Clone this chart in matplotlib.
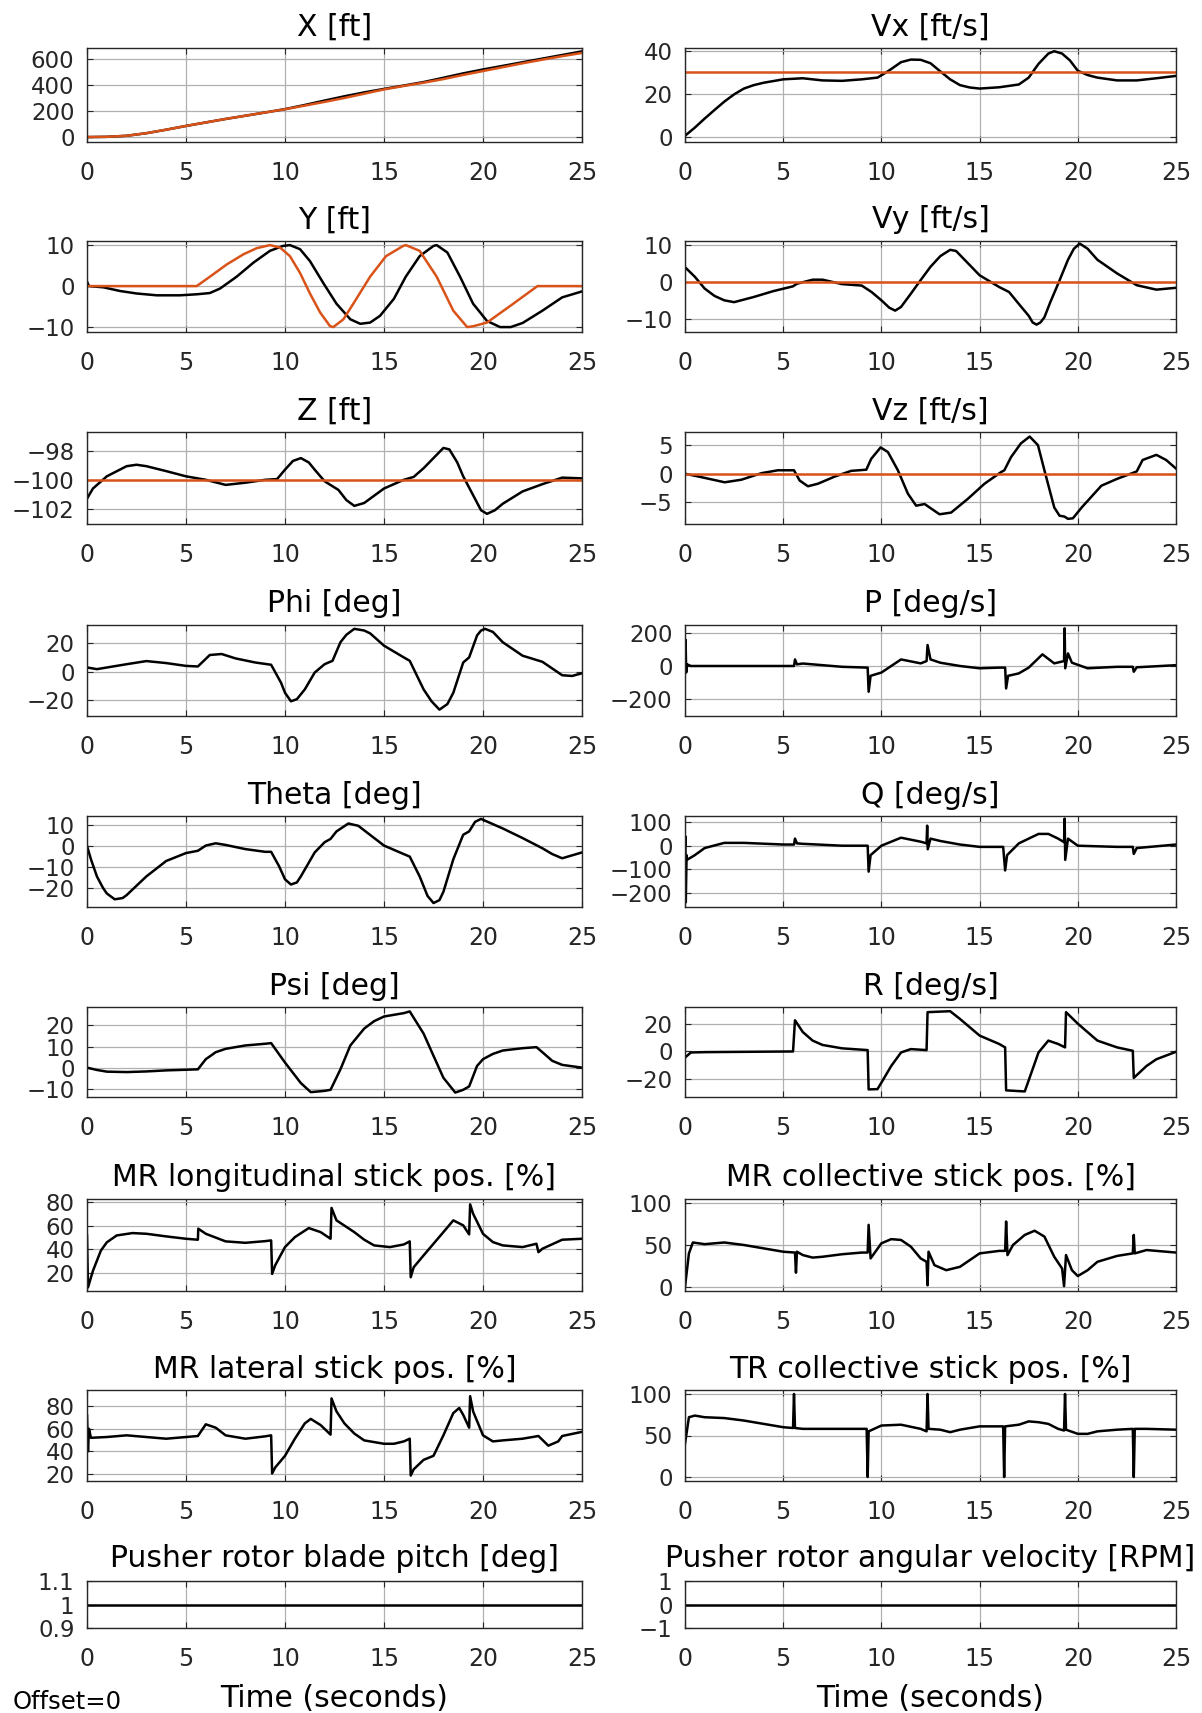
import numpy as np
import matplotlib
matplotlib.use('Agg')
import matplotlib.pyplot as plt

# ---- data (time in s) ----
t_x = [0, 1, 2, 3, 4, 5, 6, 7, 8, 9, 10, 11, 12, 13, 14, 15, 16, 17, 18, 19, 20, 21, 22, 23, 24, 25]
x_ref = [0, 2, 10, 30, 57, 86, 113, 140, 165, 190, 215, 243, 272, 302, 335, 368, 395, 420, 448, 480, 510, 540, 570, 598, 625, 650]
x_act = [0, 2, 10, 30, 57, 86, 113, 140, 165, 190, 216, 248, 282, 315, 345, 372, 398, 425, 458, 492, 522, 550, 578, 606, 634, 662]

t_vx = [0, 0.5, 1, 1.5, 2, 2.5, 3, 3.5, 4, 5, 6, 7, 8, 9, 9.8, 10.2, 10.5, 11, 11.5, 12, 12.5, 13, 13.5, 14,
        14.5, 15, 16, 17, 17.5, 18, 18.5, 18.8, 19.2, 19.6, 20, 20.5, 21, 22, 23, 24, 25]
vx = [0.5, 4.3, 8.5, 12.5, 16.4, 19.8, 22.5, 24.1, 25.2, 26.8, 27.3, 26.3, 26.1, 26.8, 27.6, 29.8, 31.6, 34.8,
      36, 35.9, 34.3, 30.5, 26.8, 24.1, 23, 22.5, 23.1, 24.4, 27.6, 34, 38.8, 39.9, 38.8, 35.6, 30.8, 28.8,
      27.6, 26.3, 26.3, 27.3, 28.4]
vx_ref = 30

t_yref = [0, 5.54, 6.21, 7.05, 7.9, 8.57, 9.24, 9.75, 10.25, 10.76, 11.26, 11.77, 12.27, 12.44, 12.95, 13.45,
          14.3, 15.1, 15.97, 16.1, 16.8, 17.66, 18.5, 19.2, 19.5, 20.2, 21.4, 22.75, 25]
y_ref = [0, 0, 2.3, 5.25, 7.75, 9.25, 10, 9.4, 7.3, 3.2, -1.8, -6.4, -9.75, -10, -8.1, -4.3,
         2.3, 7.3, 9.8, 10, 8.6, 2.3, -6, -10, -9.8, -8.9, -4.75, 0, 0]
t_y = [0, 0.1, 0.83, 1.67, 2.5, 3.52, 4.7, 5.54, 6.2, 6.72, 7.56, 8.4, 9.24, 9.9, 10.25, 10.76, 11.26, 11.94,
       12.6, 13.3, 13.8, 14.3, 14.8, 15.5, 16.1, 16.8, 17.5, 17.66, 18.2, 18.84, 19.5, 20.2, 20.86, 21.4,
       22, 23, 24, 25]
y_act = [1.1, 0, -0.3, -1.2, -1.8, -2.25, -2.25, -2, -1.7, -0.6, 2.3, 5.7, 8.6, 9.8, 10, 9, 6.1, 0.7,
         -4.3, -8.1, -9.2, -8.9, -7.25, -3.1, 2.3, 7.3, 9.8, 10, 8.2, 2.3, -4.3, -8.5, -10, -10,
         -9, -6, -2.75, -1.3]

t_vy = [0, 0.5, 1, 1.5, 2, 2.5, 3.5, 4.5, 5.5, 5.7, 6.5, 7, 8, 9, 9.5, 10, 10.4, 10.7, 11, 11.5, 12, 12.5, 13,
        13.5, 13.8, 14, 15, 16, 16.5, 17, 17.5, 17.7, 17.9, 18.1, 18.3, 18.6, 19, 19.5, 19.8, 20.1, 20.5,
        21, 22, 23, 24, 25]
vy = [4, 1.4, -1.8, -3.8, -5, -5.5, -4.1, -2.5, -1.2, -0.5, 0.6, 0.6, -0.6, -1, -2.75, -5, -7, -7.8, -6.8,
      -3.2, 0.5, 4.1, 7, 8.7, 8.4, 7.3, 1.8, -1.4, -2.75, -6, -9.2, -11, -11.6, -11, -9.6, -5.5, -0.5, 6,
      9, 10.4, 9, 6, 2.3, -0.9, -2.1, -1.6]
vy_ref = 0

t_z = [0, 0.3, 1, 2, 2.5, 3, 4, 5, 6, 7, 8, 9, 9.6, 10, 10.4, 10.8, 11.2, 11.5, 12, 12.7, 13.1, 13.5, 14, 15,
       16, 16.5, 17, 17.5, 18, 18.3, 18.7, 19, 19.5, 19.9, 20.2, 20.6, 21, 22, 23, 24, 25]
z = [-101.3, -100.6, -99.76, -99.06, -98.96, -99.06, -99.4, -99.76, -100, -100.35, -100.2, -100, -99.95,
     -99.3, -98.7, -98.5, -98.8, -99.3, -100.1, -100.7, -101.4, -101.8, -101.6, -100.6,
     -100, -99.8, -99.2, -98.5, -97.8, -97.9, -98.8, -99.76, -101.06, -102.1, -102.35, -102.1, -101.65,
     -100.8, -100.3, -99.85, -99.9]
z_ref = -100

t_vz = [0, 0.83, 2.02, 2.87, 3.9, 4.73, 5.55, 5.84, 6.26, 6.77, 7.62, 8.46, 9.23, 9.48, 9.96, 10.33, 10.84,
        11.35, 11.77, 12.2, 12.45, 12.96, 13.55, 14.4, 15.25, 16.1, 16.26, 16.6, 17.1, 17.55, 17.97, 18.3,
        18.8, 19.07, 19.32, 19.5, 19.75, 20.2, 21.2, 22, 23, 23.3, 24, 24.5, 25]
vz = [0, -0.6, -1.5, -1.05, 0.1, 0.6, 0.6, -1.2, -2.2, -1.75, -0.5, 0.5, 0.7, 2.6, 4.6, 3.8, 0.6,
      -3.5, -5.6, -5.3, -5.9, -7.1, -6.8, -4.4, -1.75, 0.3, 0.6, 2.9, 5.3, 6.5, 5, 0.6,
      -5.9, -7.35, -7.5, -7.9, -7.8, -5.9, -2.1, -0.9, 0.4, 2.4, 3.3, 2.4, 0.9]
vz_ref = 0

t_phi = [0, 0.5, 2, 3, 4, 5, 5.6, 6.2, 6.8, 7.5, 8.5, 9.3, 9.8, 10.0, 10.3, 10.6, 11, 11.5, 12, 12.4, 12.8,
         13.1, 13.5, 14, 14.3, 15, 16, 16.3, 17, 17.4, 17.8, 18.2, 18.5, 19, 19.3, 19.7, 19.9, 20.1, 20.5,
         21, 22, 23, 24, 24.5, 25]
phi = [2.9, 1.7, 5.2, 7.4, 6, 4, 3.6, 11.7, 12.4, 9.3, 6.4, 4.8, -7.9, -15, -21, -19.5, -12.6, -0.7, 5.2,
       7.6, 20.7, 26, 30.2, 29, 27, 18.3, 10, 7.6, -12.6, -21, -26.9, -23, -15, 6.4, 10, 25.5, 29, 30.2,
       28, 20.7, 11.2, 6.9, -2.6, -3.1, -1.2]

t_p = [0, 0.03, 0.06, 0.1, 0.3, 5.55, 5.6, 5.7, 6, 8, 9.3, 9.35, 9.45, 10, 11, 12, 12.3, 12.35, 12.5, 13,
       14, 15, 16, 16.3, 16.35, 16.45, 17, 17.5, 18.2, 18.8, 19.3, 19.33, 19.36, 19.5, 19.7, 20.5, 22, 22.8,
       22.85, 23, 25]
p = [0, 160, -40, 10, 0, 0, 40, 10, 15, -5, -10, -157, -60, -40, 40, 16, 30, 128, 40, 20, 0, -14, -10, -10,
     -137, -60, -45, -10, 71, 16, 30, 230, -14, 77, 20, -14, -5, -5, -35, -8, 5]

t_theta = [0, 0.2, 0.5, 0.8, 1, 1.4, 1.8, 2, 3, 4, 5, 5.6, 6, 6.5, 7, 8, 9, 9.3, 9.7, 10.0, 10.3, 10.6, 10.8,
           11.5, 12, 12.3, 12.6, 13.2, 13.7, 15, 16, 16.3, 16.8, 17.2, 17.5, 17.8, 18, 18.5, 19, 19.3, 19.6,
           19.9, 21, 22, 23, 23.5, 24, 25]
theta = [0, -6.4, -14.6, -20, -22.8, -25.6, -25, -23.6, -14.6, -7.2, -3.4, -2.3, 0.2, 1.3, 0.5, -1.5, -2.8,
         -2.8, -9.7, -16, -18.5, -17.5, -14.6, -3.1, 1.8, 3.4, 7, 10.8, 9.7, 0.2, -3.9, -5.1, -14.6, -24,
         -27.4, -26, -22, -6.4, 5.4, 7, 11.6, 13, 8.4, 3.8, -1.1, -3.9, -5.9, -3.1]

t_q = [0, 0.02, 0.04, 0.08, 0.1, 0.5, 1, 2, 3, 5, 5.55, 5.6, 5.7, 6, 8, 9.3, 9.35, 9.45, 10, 11, 12, 12.3,
       12.33, 12.36, 12.5, 13, 14, 15, 16.2, 16.3, 16.4, 17, 18, 18.5, 19, 19.3, 19.33, 19.36, 19.5, 20,
       22, 22.8, 22.85, 23, 25]
q = [0, 40, -240, -40, -60, -40, -10, 12, 12, 5, 5, 30, 10, 8, 0, 0, -110, -40, 0, 34, 17, 10, 85, -15, 30,
     20, 5, -5, -5, -105, -40, 10, 50, 50, 30, 15, 115, -60, 30, 0, -5, -5, -35, -10, 5]

t_psi = [0, 0.5, 1, 2, 3, 4, 5, 5.6, 6, 6.5, 7, 8, 9, 9.3, 10, 10.8, 11.3, 12, 12.3, 12.8, 13.3, 14, 14.5, 15,
         16, 16.3, 17, 17.5, 18, 18.6, 19, 19.3, 19.7, 20, 20.5, 21, 22, 22.7, 23, 23.5, 24, 25]
psi = [0, -1.1, -1.9, -2.1, -1.8, -1.3, -1, -0.8, 4, 7.3, 8.9, 10.5, 11.3, 11.6, 2.4, -7.3, -11.6, -11,
       -10.5, -0.8, 10.5, 18.5, 22, 24.2, 25.8, 26.6, 16.1, 5.6, -4.8, -11.8, -10.5, -8.9, 0.8, 4, 6.5,
       8.1, 9.2, 9.7, 7.3, 3.2, 1.3, 0]

t_r = [0, 0.3, 1, 5.5, 5.6, 6, 6.5, 7, 8, 9.3, 9.35, 9.8, 10, 10.5, 11, 11.5, 12.3, 12.35, 13.5, 14, 15, 16,
       16.3, 16.35, 17.3, 18, 18.5, 19, 19.35, 19.4, 20, 21, 22, 22.8, 22.85, 23.5, 24, 25]
r = [-4.5, -0.75, -0.5, 0, 23, 14.3, 8, 4.8, 2.3, 1, -28, -27.8, -23, -10.7, -0.75, 1.75, 1, 29, 29.7, 24,
     11.7, 5.5, 3, -28.7, -29.5, -0.75, 8, 5.5, 3, 29, 20.5, 8, 3, 0.5, -19.5, -10.7, -5.75, -0.25]

t_lon = [0, 0.05, 0.3, 0.7, 1, 1.5, 2.3, 3, 4, 5, 5.6, 5.62, 6, 7, 8, 9, 9.3, 9.35, 9.5, 10, 10.5, 11.2,
         11.8, 12.3, 12.35, 12.6, 13.5, 14, 14.5, 15.3, 16, 16.3, 16.35, 16.5, 17, 17.5, 18, 18.5, 19, 19.3,
         19.35, 19.5, 20, 20.5, 21, 22, 22.7, 22.8, 23, 24, 25]
lon = [51.8, 8, 22, 39, 46, 51.8, 53.8, 53.2, 51, 49, 48.2, 57.5, 53.2, 46.8, 45.6, 47, 47.6, 19.4, 26.5, 42,
       50.4, 58, 54.6, 49, 75, 64.5, 54.6, 48.2, 43.4, 42, 44.2, 46.8, 16.6, 25, 35, 44.8, 54.6, 64.5,
       60.3, 52.7, 78, 70.1, 53.2, 46.2, 43.4, 42, 44.8, 37.7, 40.6, 48.2, 49]

t_col = [0, 0.2, 0.4, 1, 2, 3, 4, 5, 5.6, 5.65, 5.7, 6, 6.5, 7, 8, 9, 9.3, 9.35, 9.45, 10, 10.5, 11, 11.5,
         12, 12.3, 12.35, 12.4, 12.7, 13.3, 14, 15, 16, 16.3, 16.35, 16.42, 16.7, 17.3, 17.8, 18.3, 18.8,
         19.2, 19.3, 19.4, 19.7, 20, 20.5, 21, 22, 22.8, 22.85, 22.9, 23.5, 24, 25]
col = [0, 40, 53, 51, 53, 50, 46, 42, 41, 17, 42, 38, 35, 36, 39, 41, 41, 74, 34, 52, 57, 56, 48, 34, 30, 2,
       42, 26, 20, 24, 40, 43, 43, 78, 38, 50, 62, 67, 60, 36, 22, 1, 38, 20, 13, 20, 30, 37, 40, 62, 40,
       44, 43, 41]

t_lat = [0, 0.05, 0.1, 0.2, 1, 2, 3, 4, 5, 5.6, 6, 6.5, 7, 8, 9, 9.3, 9.35, 9.5, 10, 10.5, 11, 11.3, 11.8,
         12.3, 12.35, 12.6, 13, 13.5, 14, 15, 15.5, 16, 16.3, 16.35, 16.5, 17, 17.5, 18, 18.5, 18.8, 19,
         19.3, 19.35, 19.5, 20, 20.5, 21, 22, 22.8, 23.3, 23.8, 24, 25]
lat = [72, 40, 60, 52, 52.7, 54.2, 52.7, 51.2, 52.7, 53.6, 64, 61, 54.2, 51.2, 53.3, 54.2, 20.3, 25.5, 36,
       51.2, 64.8, 68.8, 63.3, 54.8, 87, 75.5, 64.8, 55.8, 49.7, 46.7, 46.7, 48.8, 51.2, 18.5, 24, 32.4, 36,
       54.2, 74, 78.5, 72.4, 61, 89, 75.5, 54.2, 48.8, 49.7, 51.2, 53.6, 45, 48.8, 53.6, 57.3]

t_tr = [0, 0.2, 0.5, 1, 2, 3, 4, 5, 5.5, 5.55, 5.6, 6, 7, 8, 9.25, 9.3, 9.35, 10, 11, 12, 12.3, 12.35, 12.4,
        13, 13.5, 14, 15, 16.2, 16.25, 16.3, 17, 17.5, 18, 18.5, 19, 19.3, 19.35, 19.4, 20, 20.5, 21, 22,
        22.8, 22.85, 22.9, 23.5, 25]
tr = [40, 72, 74, 72, 71, 68, 64, 60, 59, 100, 59, 58, 58, 58, 58, 0, 55, 62, 63, 58, 55, 100, 58, 57, 54,
      57, 61, 61, 0, 61, 63, 67, 66, 64, 58, 56, 100, 57, 52, 52, 55, 57, 58, 0, 58, 58, 57]

t_push = [0, 25]
pitch = [1, 1]
rpm = [0, 0]

BLACK = 'k'
ORANGE = '#D95319'

plt.rcParams['font.family'] = ['DejaVu Sans']

W, H = 1202, 1713
fig = plt.figure(figsize=(W / 100, H / 100), dpi=100)

tops = [48, 241, 432, 625, 816, 1007, 1199, 1390, 1581]
bots = [142, 332, 524, 716, 907, 1097, 1291, 1481, 1628]
cols = [(87, 582), (685, 1176)]

TITLE_FS = 21.5


def make_ax(row, c, title, ylim, yticks, yticklabels=None, tpad=9):
    x0, x1 = cols[c]
    ax = fig.add_axes([x0 / W, 1 - bots[row] / H, (x1 - x0) / W, (bots[row] - tops[row]) / H])
    ax.set_xlim(0, 25)
    ax.set_xticks([0, 5, 10, 15, 20, 25])
    ax.set_ylim(*ylim)
    ax.set_yticks(yticks)
    if yticklabels is not None:
        ax.set_yticklabels(yticklabels)
    ax.set_title(title, fontsize=TITLE_FS, pad=tpad)
    ax.grid(True, color='#b0b0b0', lw=0.9)
    ax.set_axisbelow(True)
    ax.tick_params(direction='in', length=4, width=0.8, top=True, right=True, colors='#262626')
    ax.tick_params(axis='x', labelsize=17, pad=14)
    ax.tick_params(axis='y', labelsize=16.5, pad=9)
    for s in ax.spines.values():
        s.set_color('#262626')
        s.set_linewidth(1.0)
    return ax


LW = 1.8

ax = make_ax(0, 0, 'X [ft]', (-38, 688), [0, 200, 400, 600])
ax.plot(t_x, x_act, color=BLACK, lw=LW)
ax.plot(t_x, x_ref, color=ORANGE, lw=LW)

ax = make_ax(0, 1, 'Vx [ft/s]', (-2.4, 41.4), [0, 20, 40])
ax.plot(t_vx, vx, color=BLACK, lw=LW)
ax.axhline(vx_ref, color=ORANGE, lw=LW)

ax = make_ax(1, 0, 'Y [ft]', (-11.2, 11), [-10, 0, 10])
ax.plot(t_y, y_act, color=BLACK, lw=LW)
ax.plot(t_yref, y_ref, color=ORANGE, lw=LW)

ax = make_ax(1, 1, 'Vy [ft/s]', (-13.6, 11.1), [-10, 0, 10])
ax.plot(t_vy, vy, color=BLACK, lw=LW)
ax.axhline(vy_ref, color=ORANGE, lw=LW)

ax = make_ax(2, 0, 'Z [ft]', (-103.05, -96.7), [-102, -100, -98])
ax.plot(t_z, z, color=BLACK, lw=LW)
ax.axhline(z_ref, color=ORANGE, lw=LW)

ax = make_ax(2, 1, 'Vz [ft/s]', (-8.8, 7.3), [-5, 0, 5])
ax.plot(t_vz, vz, color=BLACK, lw=LW)
ax.axhline(vz_ref, color=ORANGE, lw=LW)

ax = make_ax(3, 0, 'Phi [deg]', (-31.4, 32.9), [-20, 0, 20])
ax.plot(t_phi, phi, color=BLACK, lw=LW)

ax = make_ax(3, 1, 'P [deg/s]', (-305, 250), [-200, 0, 200])
ax.plot(t_p, p, color=BLACK, lw=LW)

ax = make_ax(4, 0, 'Theta [deg]', (-29.3, 14.4), [-20, -10, 0, 10])
ax.plot(t_theta, theta, color=BLACK, lw=LW)

ax = make_ax(4, 1, 'Q [deg/s]', (-260, 126), [-200, -100, 0, 100])
ax.plot(t_q, q, color=BLACK, lw=LW)

ax = make_ax(5, 0, 'Psi [deg]', (-13.9, 28.7), [-10, 0, 10, 20])
ax.plot(t_psi, psi, color=BLACK, lw=LW)

ax = make_ax(5, 1, 'R [deg/s]', (-33.6, 32.8), [-20, 0, 20])
ax.plot(t_r, r, color=BLACK, lw=LW)

ax = make_ax(6, 0, 'MR longitudinal stick pos. [%]', (5, 82.5), [20, 40, 60, 80])
ax.plot(t_lon, lon, color=BLACK, lw=LW)

ax = make_ax(6, 1, 'MR collective stick pos. [%]', (-4.8, 104.8), [0, 50, 100])
ax.plot(t_col, col, color=BLACK, lw=LW)

ax = make_ax(7, 0, 'MR lateral stick pos. [%]', (13.6, 94.5), [20, 40, 60, 80])
ax.plot(t_lat, lat, color=BLACK, lw=LW)

ax = make_ax(7, 1, 'TR collective stick pos. [%]', (-4.8, 104.8), [0, 50, 100])
ax.plot(t_tr, tr, color=BLACK, lw=LW)

ax = make_ax(8, 0, 'Pusher rotor blade pitch [deg]', (0.9, 1.1), [0.9, 1, 1.1], ['0.9', '1', '1.1'], tpad=10)
ax.plot(t_push, pitch, color=BLACK, lw=LW)
ax.set_xlabel('Time (seconds)', fontsize=TITLE_FS, labelpad=9)

ax = make_ax(8, 1, 'Pusher rotor angular velocity [RPM]', (-1, 1), [-1, 0, 1], tpad=10)
ax.plot(t_push, rpm, color=BLACK, lw=LW)
ax.set_xlabel('Time (seconds)', fontsize=TITLE_FS, labelpad=9)

fig.text(13 / W, 1 - 1702 / H, 'Offset=0', fontsize=17.5, va='center', ha='left')

fig.savefig('out.png', dpi=100)
